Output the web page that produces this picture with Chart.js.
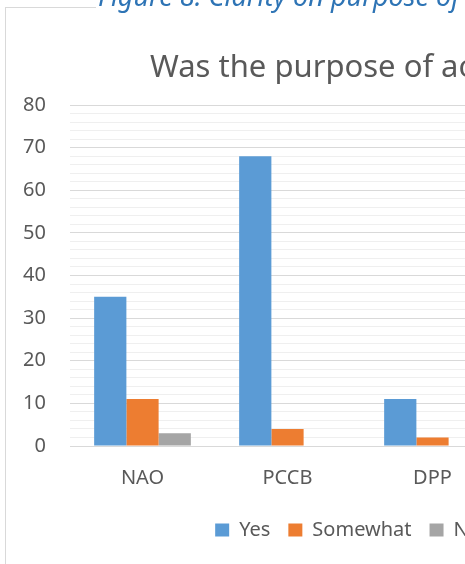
<!DOCTYPE html>
<html>
<head>
<meta charset="utf-8">
<script src="https://cdn.jsdelivr.net/npm/chart.js@4"></script>
<style>
  html, body { margin: 0; padding: 0; width: 465px; height: 564px; overflow: hidden; background: #fff; }
  #frame { position: absolute; left: 5px; top: 7px; width: 720px; height: 620px; border: 1px solid #D9D9D9; box-sizing: border-box; }
  #caption { position: absolute; left: 96px; top: -19px; padding: 0 2px; background: #fff; color: #2E74B5; font-family: "Noto Sans", sans-serif; font-style: italic; font-size: 27px; white-space: nowrap; line-height: 30px; }
  #title { position: absolute; left: 150px; top: 43px; color: #595959; font-family: "Noto Sans", sans-serif; font-size: 31px; white-space: nowrap; line-height: 44px; }
  #wrap { position: absolute; left: 6px; top: 0; width: 684px; height: 564px; }
</style>
</head>
<body>
<div id="frame"></div>
<div id="wrap"><canvas id="c"></canvas></div>
<div id="caption">Figure 8: Clarity on purpose of a</div>
<div id="title">Was the purpose of ac</div>
<script>
const categories = ["NAO", "PCCB", "DPP"];
const seriesNames = ["Yes", "Somewhat", "No"];
const yesValues = [35, 68, 11];
const somewhatValues = [11, 4, 2];
const noValues = [3, 0, 0];
const yTickValues = [0, 10, 20, 30, 40, 50, 60, 70, 80];

const colors = ["#5B9BD5", "#ED7D31", "#A5A5A5"];
const textColor = "#595959";
const font = "'Noto Sans', sans-serif";

new Chart(document.getElementById("c"), {
  type: "bar",
  data: {
    labels: categories,
    datasets: [
      { label: seriesNames[0], data: yesValues, backgroundColor: colors[0] },
      { label: seriesNames[1], data: somewhatValues, backgroundColor: colors[1] },
      { label: seriesNames[2], data: noValues, backgroundColor: colors[2] }
    ]
  },
  options: {
    responsive: true,
    maintainAspectRatio: false,
    animation: false,
    layout: { padding: { top: 105, left: 0, right: 0, bottom: 14 } },
    datasets: { bar: { categoryPercentage: 0.667, barPercentage: 1.0, borderWidth: 0 } },
    scales: {
      x: {
        grid: { display: false },
        border: { display: false },
        ticks: { color: textColor, font: { family: font, size: 20 }, padding: 12 }
      },
      y: {
        min: 0, max: 80,
        afterFit: s => { s.width = 64; },
        grid: {
          drawTicks: false,
          color: ctx => (ctx.tick && yTickValues.includes(ctx.tick.value)) ? "#D9D9D9" : "#EFEFEF",
          lineWidth: 1
        },
        border: { display: false },
        ticks: {
          stepSize: 2, autoSkip: false,
          color: textColor, font: { family: font, size: 20 }, padding: 24,
          callback: v => yTickValues.includes(v) ? String(v) : ""
        }
      },
      spacer: {
        position: "right",
        afterFit: s => { s.width = 185; },
        grid: { display: false },
        border: { display: false },
        ticks: { display: false }
      }
    },
    plugins: {
      legend: {
        position: "bottom",
        labels: { color: textColor, font: { family: font, size: 20 }, boxWidth: 14, boxHeight: 13, padding: 18 }
      },
      title: { display: false },
      tooltip: { enabled: false }
    }
  }
});
</script>
</body>
</html>
